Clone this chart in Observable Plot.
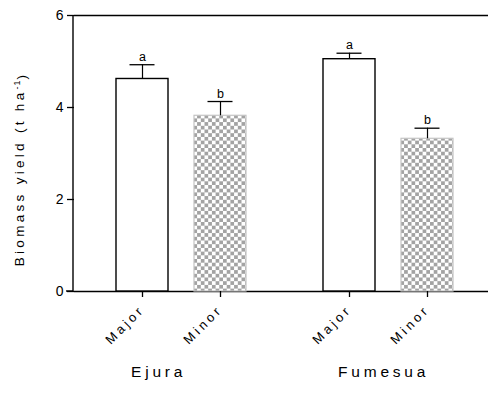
<!DOCTYPE html>
<html>
<head>
<meta charset="utf-8">
<script src="https://cdn.jsdelivr.net/npm/d3@7"></script>
<script src="https://cdn.jsdelivr.net/npm/@observablehq/plot@0.6"></script>
<style>
  html, body { margin: 0; padding: 0; background: #fff; }
  #chart svg { display: block; }
</style>
</head>
<body>
<svg style="position:absolute;width:0;height:0" aria-hidden="true">
  <defs>
    <pattern id="checker" width="7.4" height="7.4" patternUnits="userSpaceOnUse">
      <rect width="7.4" height="7.4" fill="#ffffff"></rect>
      <rect width="3.7" height="3.7" fill="#a3a3a3"></rect>
      <rect x="3.7" y="3.7" width="3.7" height="3.7" fill="#a3a3a3"></rect>
    </pattern>
  </defs>
</svg>
<div id="chart"></div>
<script>
// ---- data ----
const sites   = ["Ejura", "Ejura", "Fumesua", "Fumesua"];
const types   = ["Major", "Minor", "Major", "Minor"];
const means   = [4.62, 3.82, 5.05, 3.32];
const errors  = [0.31, 0.31, 0.13, 0.23];
const letters = ["a", "b", "a", "b"];
const siteOrder = ["Ejura", "Fumesua"];
const typeOrder = ["Major", "Minor"];
const yTicks = [0, 2, 4, 6];
const yLabelMain = "Biomass yield (t ha";
const yLabelSup = "-1";
const yLabelEnd = ")";

const data = sites.map((s, i) => ({
  site: s, type: types[i], mean: means[i], err: errors[i], top: means[i] + errors[i], letter: letters[i]
}));

const font = "'Liberation Sans', Arial, Helvetica, sans-serif";

const plot = Plot.plot({
  width: 488,
  height: 394,
  marginLeft: 73,
  marginRight: 0,
  marginTop: 15,
  marginBottom: 103,
  style: { fontFamily: font, color: "#000", background: "#fff", overflow: "visible" },
  fx: { domain: siteOrder, paddingInner: 0, paddingOuter: 0, label: null },
  x: { domain: typeOrder, paddingInner: 0.329, paddingOuter: 0.478, align: 0.55, label: null },
  y: { domain: [0, 6], label: null },
  marks: [
    Plot.ruleY([0, 6], { stroke: "#000", strokeWidth: 1.4 }),
    Plot.barY(data.filter(d => d.type === "Major"), {
      fx: "site", x: "type", y: "mean", fill: "white", stroke: "#000", strokeWidth: 1.4
    }),
    Plot.barY(data.filter(d => d.type === "Minor"), {
      fx: "site", x: "type", y: "mean", fill: "url(#checker)", stroke: "#c4c4c4", strokeWidth: 1.2
    }),
    Plot.ruleX(data, { fx: "site", x: "type", y1: "mean", y2: "top", stroke: "#000", strokeWidth: 1.2 }),
    Plot.tickY(data, { fx: "site", x: "type", y: "top", stroke: "#000", strokeWidth: 1.3, insetLeft: 13.5, insetRight: 13.5 }),
    Plot.text(data, { fx: "site", x: "type", y: "top", text: "letter", dy: -8, fontSize: 12.5, fill: "#000" }),
    Plot.axisY({ ticks: yTicks, tickFormat: d => String(d), tickSize: 7, tickPadding: 4, fontSize: 14, label: null, stroke: "#000", strokeWidth: 1.3 }),
    Plot.axisX({ tickRotate: -45, tickSize: 6, tickPadding: 10, fontSize: 13, stroke: "#000", strokeWidth: 1.3 }),
    Plot.axisFx({ anchor: "bottom", tickSize: 0, tickPadding: 74, fontSize: 15.5, textAnchor: "start", dx: -47 })
  ]
});

document.getElementById("chart").appendChild(plot);

// axis line for y and small left extension of the x axis line, placed with Plot's scales
const ys = plot.scale("y");
const svg = d3.select(plot);
const left = 73;
svg.append("line")
  .attr("x1", left).attr("x2", left)
  .attr("y1", ys.apply(0)).attr("y2", ys.apply(6))
  .attr("stroke", "#000").attr("stroke-width", 1.4);
svg.append("line")
  .attr("x1", left - 7).attr("x2", left)
  .attr("y1", ys.apply(0)).attr("y2", ys.apply(0))
  .attr("stroke", "#000").attr("stroke-width", 1.4);

// y-axis label: spaced type with a superscript, like the reference
const yc = (ys.apply(0) + ys.apply(6)) / 2 + 16;
const lab = svg.append("text")
  .attr("aria-label", "y-axis label")
  .attr("transform", `translate(19,${yc}) rotate(-90)`)
  .attr("text-anchor", "middle")
  .attr("dy", "0.35em")
  .attr("fill", "#000")
  .style("font-family", font)
  .style("font-size", "13.5px")
  .style("letter-spacing", "3.3px");
lab.append("tspan").text(yLabelMain);
lab.append("tspan").text(yLabelSup).attr("dy", "-0.45em").style("font-size", "9px").style("letter-spacing", "1px");
lab.append("tspan").text(yLabelEnd).attr("dy", "0.45em");

// letter spacing to mimic the reference's spaced type
svg.selectAll('g[aria-label="x-axis tick label"] text').style("letter-spacing", "3.3px");
svg.selectAll('g[aria-label="fx-axis tick label"] text').style("letter-spacing", "3.8px");
</script>
</body>
</html>
